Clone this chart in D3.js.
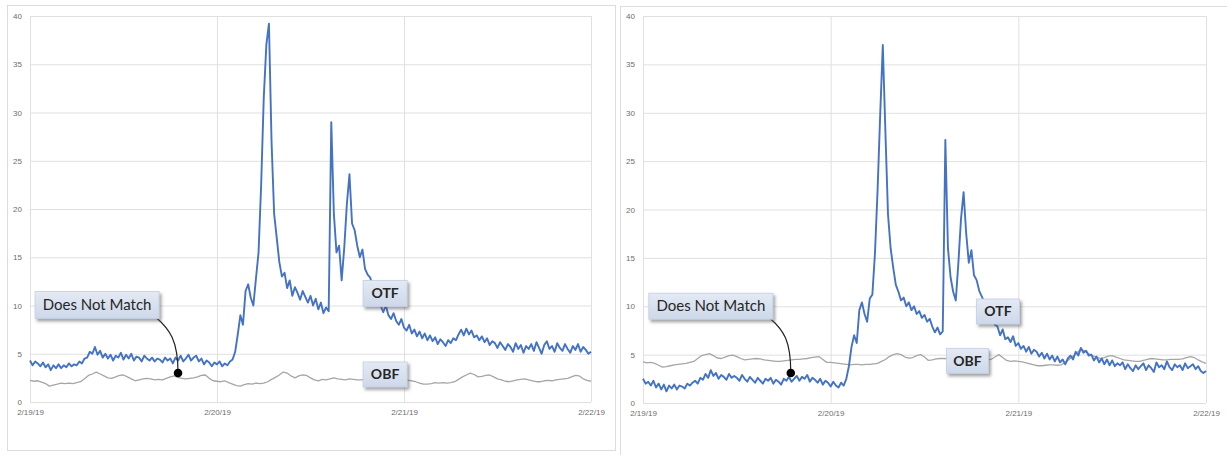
<!DOCTYPE html>
<html>
<head>
<meta charset="utf-8">
<script src="https://cdn.jsdelivr.net/npm/d3@7"></script>
<style>
  html, body { margin: 0; padding: 0; background: #fff; }
  svg { display: block; }
  .tick text { font-family: "Liberation Sans", Arial, sans-serif; font-size: 8px; fill: #6d6d6d; }
</style>
</head>
<body>
<svg id="chart" width="1227" height="455"></svg>
<script>
// Latency readings, one OTF sample every 20 minutes and one OBF sample every 30 minutes,
// from 2/19/19 00:00 to 2/22/19 00:00.
const startDate = new Date(2019, 1, 19);
const endDate = new Date(2019, 1, 22);
const dayTicks = [new Date(2019, 1, 19), new Date(2019, 1, 20), new Date(2019, 1, 21), new Date(2019, 1, 22)];
const valueTicks = [0, 5, 10, 15, 20, 25, 30, 35, 40];

// Left chart, OTF (20-minute samples)
const otfA = [
  4.3,3.8,4.2,4.0,3.7,4.1,3.6,3.9,3.3,3.8,3.5,3.9,
  3.5,3.8,3.6,4.0,3.7,3.9,3.8,4.2,4.0,4.5,4.6,5.2,
  5.0,5.7,4.9,5.3,4.6,5.0,4.5,4.9,4.3,4.8,4.6,5.1,
  4.4,4.9,4.5,5.0,4.3,4.7,4.6,4.2,4.8,4.5,4.3,4.6,
  4.2,4.5,4.4,4.1,4.6,4.3,4.5,4.0,4.6,4.3,4.8,4.2,
  4.5,4.9,4.3,4.6,4.8,4.2,4.5,3.9,4.3,4.1,3.7,4.1,
  3.9,4.2,3.7,4.0,3.8,4.2,4.4,5.2,7.0,9.0,8.0,11.5,
  12.2,10.8,10.0,12.8,15.5,22.5,31.5,37.0,39.2,27.0,19.5,17.0,
  14.5,13.0,13.4,11.8,12.6,11.0,11.9,11.3,10.6,11.5,10.9,10.3,
  11.0,10.0,10.7,9.6,10.3,9.2,9.8,9.4,29.0,19.5,15.5,16.2,
  12.6,16.0,20.5,23.6,18.5,17.8,16.2,15.0,15.8,13.8,13.2,12.9,
  11.8,11.0,10.5,10.0,9.3,10.0,9.0,8.6,9.2,8.4,8.0,8.6,
  7.7,7.4,8.0,7.1,7.5,6.8,7.3,6.6,7.1,6.4,6.9,6.3,
  6.7,6.0,6.5,6.2,5.8,6.4,6.1,6.6,6.4,7.0,7.5,6.9,
  7.6,7.0,7.4,6.7,6.9,6.4,6.8,6.2,6.6,5.9,6.3,6.1,
  5.6,6.2,5.8,5.4,6.0,5.7,5.2,6.1,5.5,5.9,5.1,5.8,
  5.5,6.0,5.3,6.2,5.6,5.0,5.9,6.3,5.5,5.8,5.2,6.1,
  5.6,5.3,6.0,5.5,5.1,5.8,5.4,6.0,5.2,5.7,5.4,5.0,
  5.2
];

// Left chart, OBF (30-minute samples)
const obfA = [
  2.25,2.15,2.2,2.05,1.9,1.65,1.75,1.85,1.95,1.9,1.95,1.9,
  2.0,2.1,2.4,2.75,2.9,3.1,2.9,2.7,2.5,2.45,2.6,2.75,
  2.8,2.6,2.4,2.2,2.3,2.4,2.45,2.4,2.3,2.35,2.3,2.45,
  2.6,2.7,2.55,2.45,2.4,2.45,2.5,2.6,2.75,2.8,2.45,2.2,
  2.15,2.1,2.2,2.0,1.85,1.7,1.65,1.8,1.9,1.85,1.95,1.9,
  1.95,2.1,2.35,2.55,2.8,3.1,3.0,2.7,2.5,2.7,2.8,2.75,
  2.5,2.3,2.2,2.35,2.3,2.4,2.5,2.4,2.35,2.3,2.4,2.35,
  2.3,2.3,2.35,2.3,2.25,2.3,2.2,2.25,2.3,2.2,2.25,2.3,
  2.3,2.25,2.2,2.1,1.95,1.85,1.85,1.9,2.0,1.95,2.0,1.95,
  2.0,2.1,2.35,2.6,2.8,3.0,2.85,2.6,2.65,2.75,2.8,2.6,
  2.4,2.3,2.15,2.1,2.2,2.3,2.35,2.4,2.3,2.2,2.1,2.1,
  2.2,2.25,2.2,2.3,2.35,2.4,2.45,2.6,2.75,2.7,2.4,2.25,
  2.15
];

// Right chart, OTF (20-minute samples)
const otfB = [
  2.5,2.0,2.2,1.8,2.3,1.6,2.0,1.4,1.9,1.2,1.8,1.5,
  1.9,1.4,1.8,1.7,1.5,2.0,1.8,2.1,2.3,2.0,2.6,2.4,
  3.0,2.6,3.4,2.8,3.1,2.5,2.9,2.7,2.4,3.0,2.6,2.8,
  2.6,2.3,2.9,2.5,2.2,2.7,2.4,2.1,2.6,2.3,2.0,2.5,
  2.3,2.6,2.0,2.4,2.2,1.9,2.5,2.3,2.7,2.2,2.5,2.8,
  2.3,2.7,2.5,2.9,2.2,2.6,2.4,2.1,2.5,1.9,2.3,2.1,
  1.7,2.2,1.8,1.6,2.1,1.8,2.5,3.8,5.8,7.0,6.2,9.6,
  10.4,9.2,8.4,10.8,11.2,15.5,22.0,29.8,37.0,28.0,19.5,16.0,
  14.0,12.2,11.5,10.6,10.9,10.0,10.4,9.6,10.0,9.2,9.5,8.8,
  9.1,8.4,8.7,7.9,7.3,7.8,7.1,7.4,27.2,16.0,13.0,11.5,
  10.6,14.5,19.0,21.8,17.5,14.5,15.8,13.2,12.7,11.6,11.0,10.4,
  9.8,9.0,8.8,8.1,7.9,7.0,7.6,6.6,6.8,6.3,6.9,5.9,
  6.2,5.6,5.9,5.3,5.8,5.1,5.5,5.3,4.8,5.2,4.6,5.1,
  4.5,4.9,4.3,4.8,4.2,4.5,4.0,4.6,4.9,4.5,5.3,4.9,
  5.7,5.2,5.4,4.9,5.0,4.4,4.8,4.2,4.6,4.0,4.5,3.9,
  4.4,3.8,4.1,3.9,4.2,3.5,4.0,3.6,3.3,3.9,3.5,3.8,
  4.1,3.4,3.9,3.6,3.2,4.2,3.7,3.9,3.5,4.3,3.7,3.4,
  4.0,3.7,3.9,3.4,4.1,3.6,3.8,4.0,3.5,3.8,3.3,3.1,
  3.3
];

// Right chart, OBF (30-minute samples)
const obfB = [
  4.25,4.15,4.2,4.1,3.9,3.7,3.75,3.85,3.95,4.0,4.05,4.1,
  4.2,4.3,4.6,4.9,5.0,5.1,4.9,4.65,4.6,4.75,4.9,4.95,
  4.8,4.6,4.45,4.5,4.55,4.6,4.55,4.45,4.4,4.35,4.3,4.3,
  4.35,4.4,4.45,4.5,4.5,4.55,4.6,4.7,4.75,4.8,4.5,4.2,
  4.2,4.15,4.1,4.05,4.0,3.95,4.0,4.0,3.95,4.0,4.0,4.05,
  4.1,4.3,4.5,4.8,5.0,5.1,5.0,4.75,4.65,4.7,4.9,5.0,
  4.75,4.4,4.45,4.55,4.6,4.6,4.55,4.5,4.5,4.5,4.5,4.45,
  4.5,4.5,4.45,4.45,4.45,4.5,4.75,5.0,4.7,4.4,4.3,4.35,
  4.3,4.25,4.15,4.05,3.95,3.85,3.85,3.9,3.95,3.95,3.9,3.95,
  4.2,4.5,4.85,5.2,5.55,5.4,5.1,4.9,4.75,4.6,4.7,4.85,
  4.9,4.75,4.6,4.45,4.4,4.35,4.3,4.3,4.4,4.5,4.6,4.55,
  4.5,4.45,4.45,4.5,4.5,4.5,4.55,4.7,4.8,4.7,4.45,4.25,
  4.1
];

// Callout labels: box corner and pointer target are given in data units (hours, value)
const calloutsA = [
  { text: "Does Not Match", hour: 0.65, value: 11.45, w: 124, h: 27, bold: false, target: [19.0, 3.0] },
  { text: "OTF", hour: 42.75, value: 12.6, w: 44, h: 26, bold: true },
  { text: "OBF", hour: 42.75, value: 4.15, w: 44, h: 25, bold: true }
];
const calloutsB = [
  { text: "Does Not Match", hour: 0.75, value: 11.35, w: 124, h: 26, bold: false, target: [18.9, 3.1] },
  { text: "OTF", hour: 42.65, value: 10.75, w: 43, h: 25, bold: true },
  { text: "OBF", hour: 38.8, value: 5.65, w: 42, h: 25, bold: true }
];

const svg = d3.select("#chart");
const MS_HOUR = 3600 * 1000;

// Shared defs: callout fill and its soft shadow
const defs = svg.append("defs");
const grad = defs.append("linearGradient").attr("id", "calloutFill")
  .attr("x1", 0).attr("y1", 0).attr("x2", 0).attr("y2", 1);
grad.append("stop").attr("offset", "0%").attr("stop-color", "#e4eaf4");
grad.append("stop").attr("offset", "100%").attr("stop-color", "#cdd8ea");
const shadow = defs.append("filter").attr("id", "calloutShadow")
  .attr("x", "-20%").attr("y", "-20%").attr("width", "150%").attr("height", "160%");
shadow.append("feDropShadow").attr("dx", 2).attr("dy", 2.5).attr("stdDeviation", 1.4)
  .attr("flood-color", "#555").attr("flood-opacity", 0.55);

// Outer frames of the two chart images
svg.append("rect").attr("x", 7.5).attr("y", 5.5).attr("width", 608).attr("height", 445)
  .attr("fill", "none").attr("stroke", "#dcdcdc");
svg.append("rect").attr("x", 620.5).attr("y", 6.5).attr("width", 620).attr("height", 460)
  .attr("fill", "none").attr("stroke", "#dcdcdc");

function drawPanel(cfg) {
  const x = d3.scaleTime().domain([startDate, endDate]).range([cfg.left, cfg.right]);
  const y = d3.scaleLinear().domain([0, 40]).range([cfg.bottom, cfg.top]);
  const g = svg.append("g");

  // horizontal grid + value labels
  const yAxis = g.append("g").attr("transform", `translate(${cfg.left},0)`)
    .call(d3.axisLeft(y).tickValues(valueTicks).tickSize(-(cfg.right - cfg.left)).tickPadding(8));
  yAxis.select(".domain").remove();
  yAxis.selectAll(".tick line").attr("stroke", "#e0e0e0");

  // vertical day grid + date labels
  const xAxis = g.append("g").attr("transform", `translate(0,${cfg.bottom})`)
    .call(d3.axisBottom(x).tickValues(dayTicks).tickFormat(d3.timeFormat("%-m/%-d/%y"))
      .tickSize(-(cfg.bottom - cfg.top)).tickPadding(7));
  xAxis.select(".domain").remove();
  xAxis.selectAll(".tick line").attr("stroke", "#e0e0e0");

  const lineOf = (stepHours) => d3.line()
    .x((d, i) => x(new Date(startDate.getTime() + i * stepHours * MS_HOUR)))
    .y(d => y(d));

  g.append("path").datum(cfg.obf).attr("d", lineOf(0.5)(cfg.obf))
    .attr("fill", "none").attr("stroke", "#a6a6a6").attr("stroke-width", 1.3)
    .attr("stroke-linejoin", "round");
  g.append("path").datum(cfg.otf).attr("d", lineOf(1 / 3)(cfg.otf))
    .attr("fill", "none").attr("stroke", "#4472c4").attr("stroke-width", 1.9)
    .attr("stroke-linejoin", "round");

  const at = (h) => x(new Date(startDate.getTime() + h * MS_HOUR));

  cfg.callouts.forEach(c => {
    const bx = at(c.hour), by = y(c.value);
    if (c.target) {
      const tx = at(c.target[0]), ty = y(c.target[1]);
      const sx = bx + c.w - 3, sy = by + c.h - 1;
      g.append("path")
        .attr("d", `M${sx},${sy} C${sx + 14},${sy + 12} ${tx},${ty - 32} ${tx},${ty}`)
        .attr("fill", "none").attr("stroke", "#222").attr("stroke-width", 1.2);
      g.append("circle").attr("cx", tx).attr("cy", ty).attr("r", 4.3).attr("fill", "#000");
    }
    g.append("rect").attr("x", bx).attr("y", by).attr("width", c.w).attr("height", c.h)
      .attr("fill", "url(#calloutFill)").attr("stroke", "#c3cfe2").attr("stroke-width", 0.8)
      .attr("filter", "url(#calloutShadow)");
    g.append("text").attr("x", bx + c.w / 2).attr("y", by + c.h / 2 + 5)
      .attr("text-anchor", "middle")
      .attr("font-family", "Lato, 'Open Sans', sans-serif")
      .attr("font-size", c.bold ? 14 : 15)
      .attr("font-weight", c.bold ? 700 : 400)
      .attr("fill", "#262626")
      .text(c.text);
  });
}

drawPanel({ left: 30, right: 591, top: 16, bottom: 402, otf: otfA, obf: obfA, callouts: calloutsA });
drawPanel({ left: 643, right: 1206, top: 16, bottom: 403, otf: otfB, obf: obfB, callouts: calloutsB });
</script>
</body>
</html>
